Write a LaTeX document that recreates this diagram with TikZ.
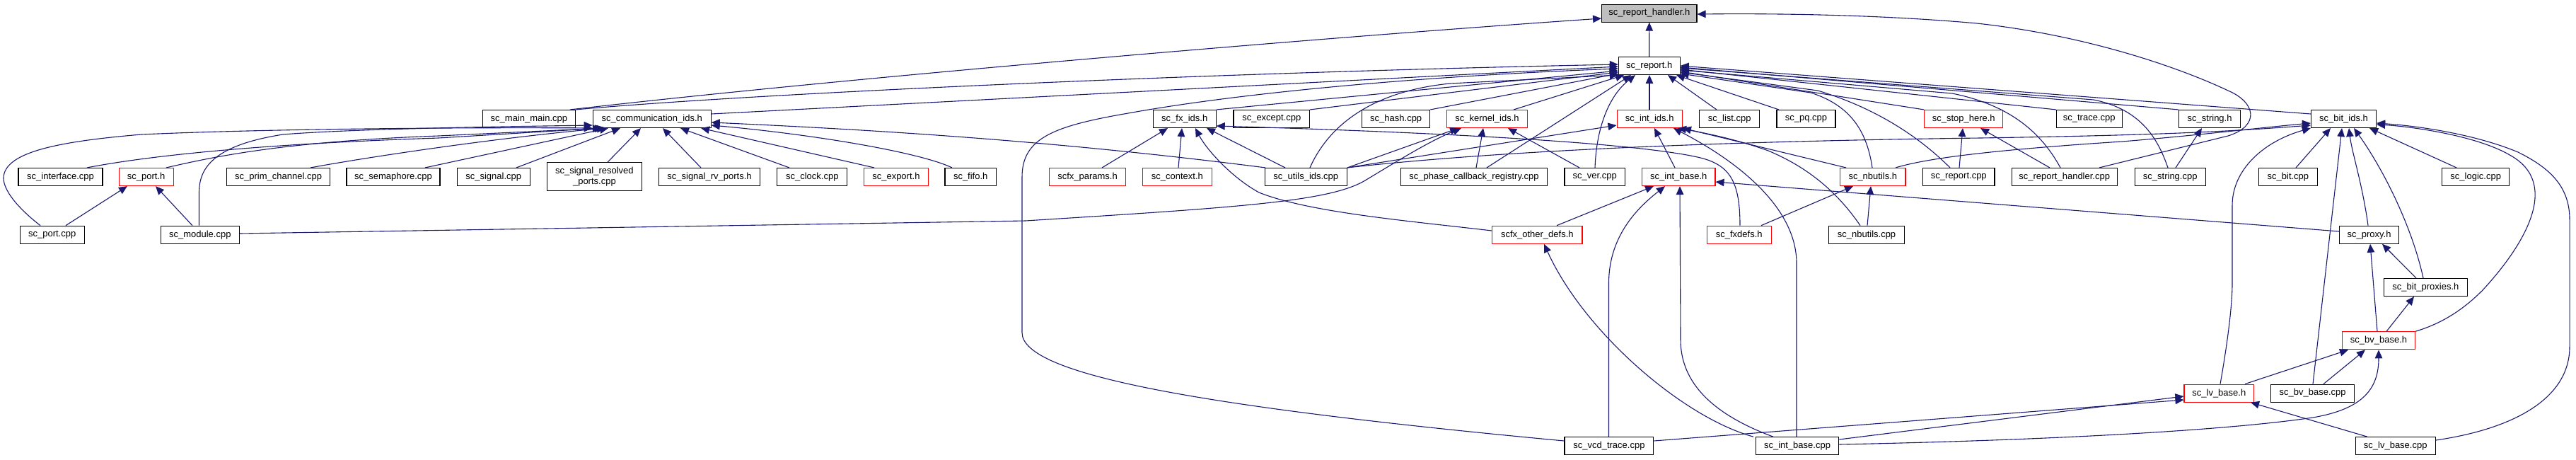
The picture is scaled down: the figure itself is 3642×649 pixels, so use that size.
\documentclass[tikz,border=0pt]{standalone}
\usepackage{fontspec}
\setmainfont{Liberation Sans}
\usetikzlibrary{arrows.meta}
\definecolor{eblue}{HTML}{191970}
\definecolor{rootgray}{HTML}{BFBFBF}
\begin{document}
\begin{tikzpicture}[x=1pt,y=-1pt,
  nd/.style={draw=black,line width=1.1pt,minimum height=25pt,inner sep=0pt,font=\fontsize{13pt}{15pt}\selectfont},
  rd/.style={nd,draw=red},
  dep/.style={draw=eblue,line width=1.1pt,-{Triangle[length=12pt,width=10.5pt]}}]
\path[use as bounding box] (0,0) rectangle (3642,649);
% ---- nodes ----
\node[nd,fill=rootgray,minimum width=134.4pt] (rh) at (2331.8,18.6) {sc\_report\_handler.h};
\node[nd,minimum width=86.7pt] (rep) at (2331.7,93) {sc\_report.h};
% row 2
\node[nd,minimum width=131pt] (mainm) at (747.9,168) {sc\_main\_main.cpp};
\node[nd,minimum width=167pt] (comm) at (921.7,168) {sc\_communication\_ids.h};
\node[nd,minimum width=89pt] (fxids) at (1674.7,168) {sc\_fx\_ids.h};
\node[nd,minimum width=107.7pt] (except) at (1797.8,168) {sc\_except.cpp};
\node[nd,minimum width=96pt] (hash) at (1973.7,168) {sc\_hash.cpp};
\node[rd,minimum width=113.7pt] (kern) at (2102.5,168) {sc\_kernel\_ids.h};
\node[rd,minimum width=92.3pt] (intids) at (2332.2,168) {sc\_int\_ids.h};
\node[nd,minimum width=85pt] (list) at (2445.2,168) {sc\_list.cpp};
\node[nd,minimum width=83pt] (pq) at (2553.5,168) {sc\_pq.cpp};
\node[rd,minimum width=111pt] (stop) at (2776.2,168) {sc\_stop\_here.h};
\node[nd,minimum width=92.7pt] (trace) at (2953.7,168) {sc\_trace.cpp};
\node[nd,minimum width=86.8pt] (strh) at (3124.1,168) {sc\_string.h};
\node[nd,minimum width=92.1pt] (bitids) at (3313.5,168) {sc\_bit\_ids.h};
% row 3
\node[nd,minimum width=119pt] (iface) at (85.5,250) {sc\_interface.cpp};
\node[rd,minimum width=76.7pt] (porth) at (206.7,250) {sc\_port.h};
\node[nd,minimum width=146pt] (prim) at (393.6,250) {sc\_prim\_channel.cpp};
\node[nd,minimum width=132pt] (sema) at (556,250) {sc\_semaphore.cpp};
\node[nd,minimum width=103pt] (signal) at (697.7,250) {sc\_signal.cpp};
\node[nd,minimum width=133.6pt,minimum height=40.2pt,align=center] (srp) at (840.4,249.8) {sc\_signal\_resolved\\\_ports.cpp};
\node[nd,minimum width=143pt] (rvports) at (1003,250) {sc\_signal\_rv\_ports.h};
\node[nd,minimum width=99pt] (clock) at (1148.3,250) {sc\_clock.cpp};
\node[rd,minimum width=91pt] (export) at (1266.9,250) {sc\_export.h};
\node[nd,minimum width=72.4pt] (fifo) at (1372.2,250) {sc\_fifo.h};
\node[rd,minimum width=108pt] (params) at (1537.5,250) {scfx\_params.h};
\node[rd,minimum width=97.6pt] (context) at (1664.4,250) {sc\_context.h};
\node[nd,minimum width=116pt] (utils) at (1846.3,250) {sc\_utils\_ids.cpp};
\node[nd,minimum width=206.7pt] (phase) at (2084,250) {sc\_phase\_callback\_registry.cpp};
\node[nd,minimum width=85.4pt] (ver) at (2254.7,250) {sc\_ver.cpp};
\node[rd,minimum width=103.3pt] (intbaseh) at (2373.3,250) {sc\_int\_base.h};
\node[rd,minimum width=92.3pt] (nbh) at (2647.8,250) {sc\_nbutils.h};
\node[nd,minimum width=101.3pt] (repcpp) at (2769.3,250) {sc\_report.cpp};
\node[nd,minimum width=149.3pt] (rhcpp) at (2918.7,250) {sc\_report\_handler.cpp};
\node[nd,minimum width=100.3pt] (strcpp) at (3068.2,250) {sc\_string.cpp};
\node[nd,minimum width=83pt] (bitcpp) at (3234.9,250) {sc\_bit.cpp};
\node[nd,minimum width=94.6pt] (logic) at (3500.2,250) {sc\_logic.cpp};
% row 4
\node[nd,minimum width=90.7pt] (portcpp) at (73.7,331.7) {sc\_port.cpp};
\node[nd,minimum width=111pt] (module) at (282.8,331.7) {sc\_module.cpp};
\node[rd,minimum width=127.3pt] (otherdefs) at (2173.3,331.7) {scfx\_other\_defs.h};
\node[rd,minimum width=90.7pt] (fxdefs) at (2458.7,331.7) {sc\_fxdefs.h};
\node[nd,minimum width=106.7pt] (nbcpp) at (2639,331.7) {sc\_nbutils.cpp};
\node[nd,minimum width=84pt] (proxy) at (3349.5,331.7) {sc\_proxy.h};
% lower right
\node[nd,minimum width=117.5pt] (bitprox) at (3429.4,406) {sc\_bit\_proxies.h};
\node[rd,minimum width=102.7pt] (bvh) at (3363,481.3) {sc\_bv\_base.h};
\node[rd,minimum width=98.7pt] (lvh) at (3137.3,555.6) {sc\_lv\_base.h};
\node[nd,minimum width=117.5pt] (bvcpp) at (3269.6,555.6) {sc\_bv\_base.cpp};
% bottom
\node[nd,minimum width=125.8pt] (vcd) at (2274.9,630.2) {sc\_vcd\_trace.cpp};
\node[nd,minimum width=117.5pt] (intbasecpp) at (2541,630.2) {sc\_int\_base.cpp};
\node[nd,minimum width=113.3pt] (lvcpp) at (3386.7,630.2) {sc\_lv\_base.cpp};
% ---- edges ----
% into sc_report_handler.h
\draw[dep] (rep.north) -- (rh.south);
\draw[dep] (mainm.north -| 806,0) .. controls (1150,115) and (1800,58) .. (rh.west |- 0,26);
\draw[dep] (rhcpp.north -| 2968,0) -- (3150,192) .. controls (3195,178) and (3190,145) .. (3150,128) .. controls (3080,95) and (2950,50) .. (2795,33) .. controls (2650,20) and (2500,19) .. (rh.east |- 0,20);
% into sc_report.h from the left
\draw[dep] (mainm.north east) .. controls (1050,133) and (1700,103) .. (rep.west |- 0,91);
\draw[dep] (comm.east |- 0,161) -- (rep.west |- 0,94);
\draw[dep] (vcd.west |- 0,623) .. controls (1700,575) and (1445,530) .. (1445,470) -- (1445,250) .. controls (1445,195) and (1490,178) .. (1595,160) .. controls (1750,132) and (2000,108) .. (rep.west |- 0,97);
\draw[dep] (fxids.north east) -- (rep.west |- 0,100);
\draw[dep] (except.north east) -- (rep.west |- 0,102);
\draw[dep] (hash.north east) -- (rep.west |- 0,104);
\draw[dep] (utils.north -| 1852,0) .. controls (1875,185) and (1930,130) .. (2050,118) -- (rep.south west);
\draw[dep] (kern.north -| 2140,0) -- (rep.south -| 2296,0);
\draw[dep] (phase.north -| 2102,0) -- (rep.south -| 2306,0);
\draw[dep] (ver.north -| 2255,0) .. controls (2257,180) and (2275,135) .. (rep.south -| 2312,0);
\draw[dep] (intids.north -| 2332,0) -- (rep.south -| 2332,0);
% into sc_report.h from the right
\draw[dep] (list.north -| 2427,0) -- (rep.south -| 2358,0);
\draw[dep] (pq.north -| 2515,0) -- (rep.south -| 2370,0);
\draw[dep] (stop.north west) -- (rep.east |- 0,101);
\draw[dep] (trace.north west) -- (rep.east |- 0,98);
\draw[dep] (strh.north west) -- (rep.east |- 0,95);
\draw[dep] (bitids.west |- 0,161) -- (rep.east |- 0,93);
\draw[dep] (strcpp.north -| 3065,0) .. controls (3052,200) and (3030,155) .. (2960,141) -- (rep.east |- 0,96);
\draw[dep] (nbh.north -| 2647,0) .. controls (2640,190) and (2620,150) .. (2560,131) -- (rep.east |- 0,104);
\draw[dep] (repcpp.north -| 2757,0) .. controls (2720,200) and (2660,155) .. (2570,128) -- (rep.east |- 0,102);
\draw[dep] (rhcpp.north -| 2913,0) .. controls (2890,195) and (2850,150) .. (2760,132) -- (rep.east |- 0,99);
% into sc_communication_ids.h
\draw[dep] (portcpp.north -| 57,0) .. controls (20,290) and (0,262) .. (6,245) .. controls (15,215) and (80,200) .. (200,190) .. controls (400,181) and (700,180) .. (comm.south west);
\draw[dep] (module.north -| 281.5,0) -- (281.5,272) .. controls (281.5,235) and (305,205) .. (400,190) .. controls (500,182) and (700,179) .. (comm.west |- 0,177);
\draw[dep] (iface.north -| 123,0) .. controls (200,222) and (350,204) .. (620,195) -- (comm.south -| 850,0);
\draw[dep] (porth.north -| 235,0) .. controls (300,222) and (400,200) .. (620,192) -- (comm.south -| 853,0);
\draw[dep] (prim.north -| 439,0) .. controls (520,222) and (700,195) .. (comm.south -| 856,0);
\draw[dep] (sema.north -| 601,0) -- (comm.south -| 860,0);
\draw[dep] (signal.north -| 730,0) -- (comm.south -| 877,0);
\draw[dep] (srp.north -| 859,0) -- (comm.south -| 906,0);
\draw[dep] (rvports.north -| 991,0) -- (comm.south -| 937,0);
\draw[dep] (clock.north -| 1116,0) -- (comm.south -| 962,0);
\draw[dep] (export.north -| 1236,0) -- (comm.south -| 991,0);
\draw[dep] (fifo.north -| 1346,0) .. controls (1300,215) and (1150,190) .. (comm.east |- 0,177);
\draw[dep] (utils.north -| 1789,0) .. controls (1500,200) and (1250,184) .. (comm.east |- 0,173);
% into sc_port.h
\draw[dep] (portcpp.north -| 93,0) -- (porth.south -| 180,0);
\draw[dep] (module.north -| 272,0) -- (porth.south -| 220,0);
% into sc_kernel_ids.h
\draw[dep] (utils.north east) -- (kern.south -| 2062,0);
\draw[dep] (module.east |- 0,330) -- (1450,312) .. controls (1750,293) and (1880,285) .. (1930,255) .. controls (1980,225) and (2020,200) .. (kern.south -| 2066,0);
\draw[dep] (phase.north -| 2087,0) -- (kern.south -| 2097,0);
\draw[dep] (ver.north -| 2233,0) -- (kern.south -| 2132,0);
% into sc_fx_ids.h
\draw[dep] (params.north -| 1558,0) -- (fxids.south -| 1651,0);
\draw[dep] (context.north -| 1666,0) -- (fxids.south -| 1671,0);
\draw[dep] (otherdefs.west |- 0,326) .. controls (1990,312) and (1850,300) .. (1780,272) .. controls (1740,250) and (1705,210) .. (fxids.south -| 1690,0);
\draw[dep] (utils.north -| 1817,0) -- (fxids.south -| 1706,0);
\draw[dep] (fxdefs.north -| 2460,0) .. controls (2460,255) and (2445,232) .. (2400,222) .. controls (2300,200) and (2000,186) .. (fxids.east |- 0,178);
% into sc_int_ids.h
\draw[dep] (utils.north east) -- (intids.west |- 0,177);
\draw[dep] (intbaseh.north -| 2368,0) -- (intids.south -| 2339,0);
\draw[dep] (nbh.north -| 2610,0) -- (intids.south east);
\draw[dep] (nbcpp.north -| 2630,0) .. controls (2600,275) and (2560,238) .. (2500,213) .. controls (2450,195) and (2400,186) .. (intids.south -| 2372,0);
\draw[dep] (intbasecpp.north -| 2540,0) -- (2540,372) .. controls (2540,300) and (2470,235) .. (intids.south -| 2366,0);
% into sc_int_base.h
\draw[dep] (otherdefs.north -| 2201,0) -- (intbaseh.south -| 2338,0);
\draw[dep] (vcd.north -| 2274.5,0) -- (2274.5,400) .. controls (2274.5,330) and (2320,290) .. (intbaseh.south -| 2354,0);
\draw[dep] (intbasecpp.north -| 2507,0) .. controls (2420,585) and (2376,540) .. (2376,480) -- (intbaseh.south -| 2375,0);
\draw[dep] (proxy.west |- 0,327) -- (intbaseh.east |- 0,257);
% into scfx_other_defs.h
\draw[dep] (intbasecpp.north -| 2479,0) .. controls (2380,590) and (2240,470) .. (otherdefs.south -| 2183,0);
% into sc_nbutils.h
\draw[dep] (fxdefs.north -| 2490,0) -- (nbh.south -| 2620,0);
\draw[dep] (nbcpp.north -| 2640,0) -- (nbh.south -| 2645,0);
% into sc_stop_here.h
\draw[dep] (repcpp.north -| 2770,0) -- (stop.south -| 2775,0);
\draw[dep] (rhcpp.north -| 2898,0) -- (stop.south -| 2800,0);
% into sc_string.h
\draw[dep] (strcpp.north -| 3076,0) -- (strh.south -| 3113,0);
% into sc_bit_ids.h
\draw[dep] (utils.north east) .. controls (2100,215) and (2400,200) .. (2800,195) .. controls (3050,191) and (3150,186) .. (bitids.west |- 0,177);
\draw[dep] (nbh.north -| 2680,0) .. controls (2720,225) and (2800,213) .. (3000,200) .. controls (3100,192) and (3200,180) .. (bitids.west |- 0,174);
\draw[dep] (lvh.north -| 3139,0) .. controls (3150,480) and (3156,430) .. (3156,400) -- (3156,290) .. controls (3156,240) and (3200,200) .. (bitids.south west);
\draw[dep] (bitcpp.north -| 3246,0) -- (bitids.south -| 3295,0);
\draw[dep] (bvcpp.north -| 3270,0) -- (bitids.south -| 3311,0);
\draw[dep] (proxy.north -| 3348,0) .. controls (3340,260) and (3325,215) .. (bitids.south -| 3321,0);
\draw[dep] (bitprox.north -| 3426,0) .. controls (3410,320) and (3370,240) .. (bitids.south -| 3328,0);
\draw[dep] (logic.north -| 3473,0) -- (bitids.south -| 3350,0);
\draw[dep] (bvh.north east) .. controls (3460,455) and (3490,430) .. (3510,410) .. controls (3570,345) and (3620,260) .. (3550,220) .. controls (3500,190) and (3400,178) .. (bitids.east |- 0,176);
\draw[dep] (lvcpp.east |- 0,622) .. controls (3560,605) and (3633,560) .. (3633,490) -- (3633,310) .. controls (3633,260) and (3600,235) .. (3560,215) .. controls (3500,190) and (3420,178) .. (bitids.east |- 0,174);
% into sc_proxy.h
\draw[dep] (bitprox.north -| 3416,0) -- (proxy.south -| 3368,0);
\draw[dep] (bvh.north -| 3361,0) -- (proxy.south -| 3351,0);
% into sc_bit_proxies.h
\draw[dep] (bvh.north -| 3374,0) -- (bitprox.south -| 3413,0);
% into sc_bv_base.h
\draw[dep] (lvh.north -| 3174,0) -- (bvh.south -| 3320,0);
\draw[dep] (bvcpp.north -| 3285,0) -- (bvh.south -| 3344,0);
\draw[dep] (intbasecpp.east |- 0,628) .. controls (2900,622) and (3150,608) .. (3270,590) .. controls (3340,578) and (3363,550) .. (bvh.south -| 3363,0);
% into sc_lv_base.h
\draw[dep] (lvcpp.north -| 3347,0) -- (lvh.south -| 3182,0);
\draw[dep] (vcd.east |- 0,623) -- (lvh.west |- 0,565);
\draw[dep] (intbasecpp.east |- 0,621) -- (lvh.west |- 0,560);
\end{tikzpicture}
\end{document}
